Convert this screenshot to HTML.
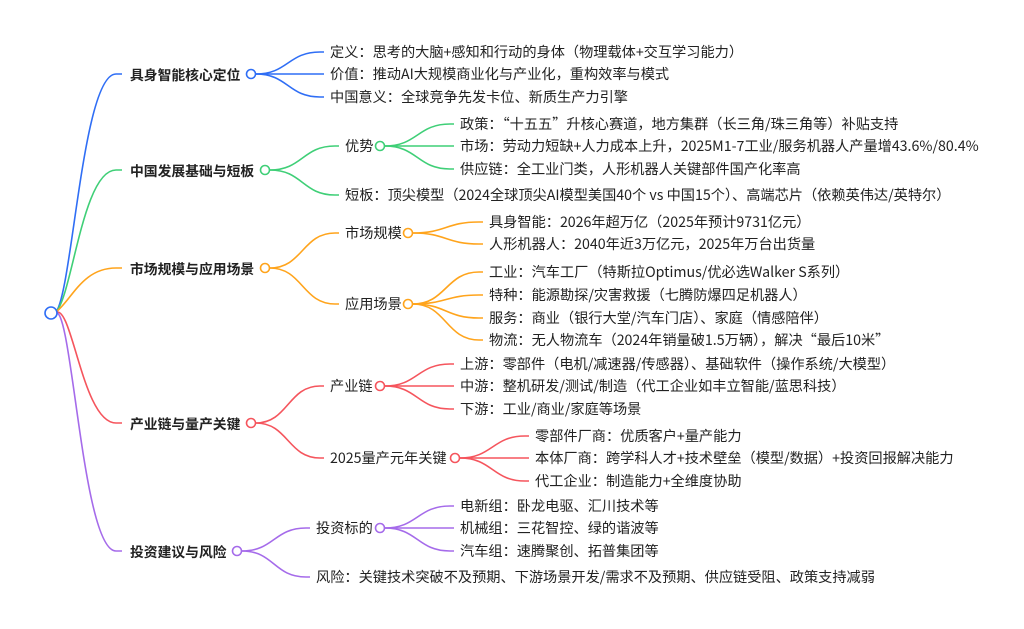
<!DOCTYPE html>
<html><head><meta charset="utf-8"><style>
html,body{margin:0;padding:0;background:#fff;}
svg{display:block;font-family:"Noto Sans CJK SC","Liberation Sans",sans-serif;}
text{font-size:14.2px;fill:#222;dominant-baseline:central;}
.b{font-weight:bold;font-size:13.8px;}
</style></head><body>
<svg id="s" width="1024" height="629" viewBox="0 0 1024 629">
<g id="p" fill="none" stroke-width="1.6"></g>
<text class="b" x="130" y="74">具身智能核心定位</text>
<text x="330" y="52">定义：思考的大脑+感知和行动的身体（物理载体+交互学习能力）</text>
<text x="330" y="74">价值：推动AI大规模商业化与产业化，重构效率与模式</text>
<text x="330" y="97">中国意义：全球竞争先发卡位、新质生产力引擎</text>
<text class="b" x="130" y="170">中国发展基础与短板</text>
<text x="345" y="146">优势</text>
<text x="460" y="124">政策：“十五五”升核心赛道，地方集群（长三角/珠三角等）补贴支持</text>
<text x="460" y="146">市场：劳动力短缺+人力成本上升，2025M1-7工业/服务机器人产量增43.6%/80.4%</text>
<text x="460" y="169">供应链：全工业门类，人形机器人关键部件国产化率高</text>
<text x="345" y="195">短板：顶尖模型（2024全球顶尖AI模型美国40个 vs 中国15个）、高端芯片（依赖英伟达/英特尔）</text>
<text class="b" x="130" y="268">市场规模与应用场景</text>
<text x="345" y="233">市场规模</text>
<text x="489" y="222">具身智能：2026年超万亿（2025年预计9731亿元）</text>
<text x="489" y="244">人形机器人：2040年近3万亿元，2025年万台出货量</text>
<text x="345" y="304">应用场景</text>
<text x="489" y="272">工业：汽车工厂（特斯拉Optimus/优必选Walker S系列）</text>
<text x="489" y="295">特种：能源勘探/灾害救援（七腾防爆四足机器人）</text>
<text x="489" y="318">服务：商业（银行大堂/汽车门店）、家庭（情感陪伴）</text>
<text x="489" y="340">物流：无人物流车（2024年销量破1.5万辆），解决“最后10米”</text>
<text class="b" x="130" y="423">产业链与量产关键</text>
<text x="330" y="386">产业链</text>
<text x="460" y="364">上游：零部件（电机/减速器/传感器）、基础软件（操作系统/大模型）</text>
<text x="460" y="386">中游：整机研发/测试/制造（代工企业如丰立智能/蓝思科技）</text>
<text x="460" y="409">下游：工业/商业/家庭等场景</text>
<text x="330" y="458">2025量产元年关键</text>
<text x="535" y="436">零部件厂商：优质客户+量产能力</text>
<text x="535" y="458">本体厂商：跨学科人才+技术壁垒（模型/数据）+投资回报解决能力</text>
<text x="535" y="481">代工企业：制造能力+全维度协助</text>
<text class="b" x="130" y="551">投资建议与风险</text>
<text x="316" y="528">投资标的</text>
<text x="460" y="506">电新组：卧龙电驱、汇川技术等</text>
<text x="460" y="528">机械组：三花智控、绿的谐波等</text>
<text x="460" y="551">汽车组：速腾聚创、拓普集团等</text>
<text x="316" y="577">风险：关键技术突破不及预期、下游场景开发/需求不及预期、供应链受阻、政策支持减弱</text>
<g id="c" fill="#fff" stroke-width="1.6"></g>
</svg>
<script>
var B='#2f6ef5',G='#3fcf77',O='#ffa41c',R='#f5555d',P='#a56bea';
var p=document.getElementById('p'),c=document.getElementById('c'),ns='http://www.w3.org/2000/svg';
function L(x1,y1,xt,y2,col){var x2=xt-10;var m=(x1+x2)/2;var e=document.createElementNS(ns,'path');
e.setAttribute('d','M'+x1+' '+y1+' C'+m+' '+y1+','+m+' '+y2+','+x2+' '+y2+' L'+(x2+4)+' '+y2);e.setAttribute('stroke',col);p.appendChild(e);}
function Rt(y,col){var e=document.createElementNS(ns,'path');
e.setAttribute('d','M55 313 C72 300,82 '+y+',116 '+y+' L122 '+y);e.setAttribute('stroke',col);p.appendChild(e);}
function C(x,y,col,r){var e=document.createElementNS(ns,'circle');e.setAttribute('cx',x);e.setAttribute('cy',y);e.setAttribute('r',r||4.5);e.setAttribute('stroke',col);c.appendChild(e);}
Rt(74,B);Rt(170,G);Rt(268,O);Rt(423,R);Rt(551,P);C(51,313,B,6);
C(251,74,B);[52,74,97].forEach(y=>L(256,74,330,y,B));
C(265,170,G);L(270,170,345,146,G);L(270,170,345,195,G);
C(380,146,G);[124,146,169].forEach(y=>L(385,146,460,y,G));
C(265,268,O);L(270,268,345,233,O);L(270,268,345,304,O);
C(408,233,O);[222,244].forEach(y=>L(413,233,489,y,O));
C(408,304,O);[272,295,318,340].forEach(y=>L(413,304,489,y,O));
C(251,423,R);L(256,423,330,386,R);L(256,423,330,458,R);
C(380,386,R);[364,386,409].forEach(y=>L(385,386,460,y,R));
C(455,458,R);[436,458,481].forEach(y=>L(460,458,535,y,R));
C(237,551,P);L(242,551,316,528,P);L(242,551,316,577,P);
C(380,528,P);[506,528,551].forEach(y=>L(385,528,460,y,P));
</script>
</body></html>
